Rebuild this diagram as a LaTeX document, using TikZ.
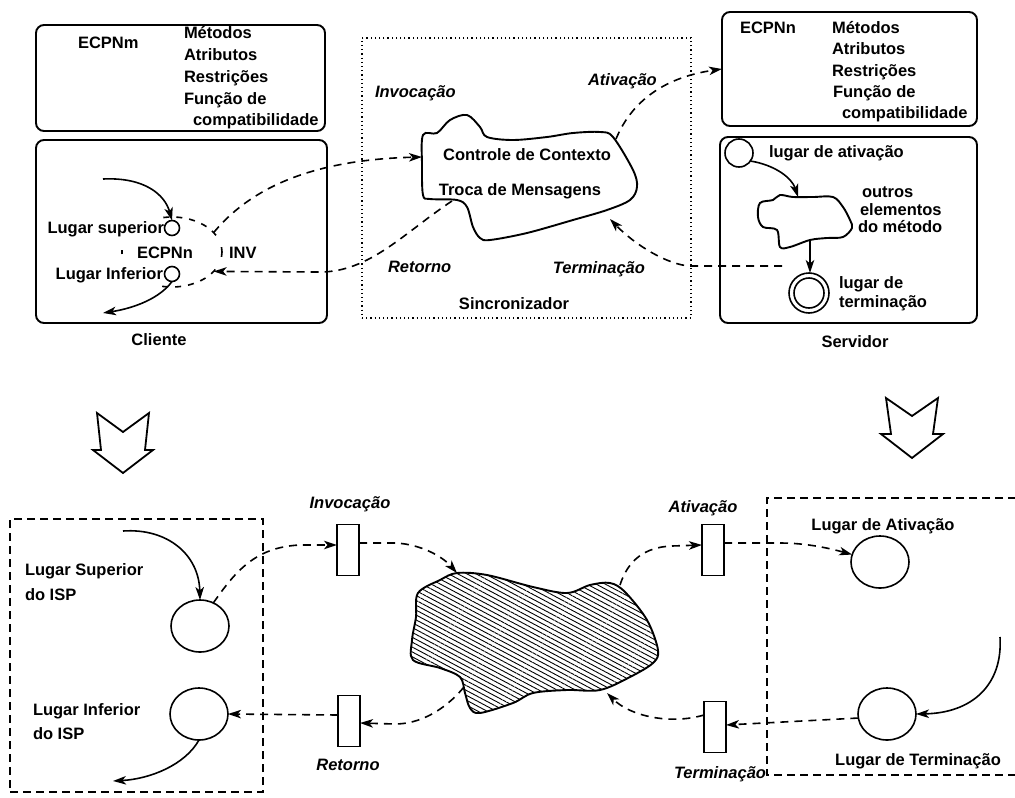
\documentclass[tikz,border=0pt]{standalone}
\usepackage{fontspec}
\setmainfont{Liberation Sans}
\usetikzlibrary{arrows.meta,shapes.geometric,patterns.meta,calc}

\begin{document}
\begin{tikzpicture}[x=1pt,y=-1pt,
  every node/.style={inner sep=0pt,outer sep=0pt},
  txt/.style={font=\fontsize{16.5}{18}\selectfont\bfseries,text height=11pt,text depth=0pt},
  itx/.style={font=\fontsize{16.5}{18}\selectfont\bfseries\itshape,text height=11pt,text depth=0pt},
  panel/.style={draw,line width=1.9pt,rounded corners=8pt},
  dotbox/.style={draw,line width=1.6pt,dash pattern=on 1.2pt off 3pt},
  dbox/.style={draw,line width=1.8pt,dash pattern=on 8pt off 5pt},
  smallplace/.style={draw,circle,line width=1.6pt,fill=white},
  place/.style={draw,ellipse,line width=1.6pt,minimum width=58pt,minimum height=52pt},
  trans/.style={draw,line width=1.6pt,minimum width=22pt,minimum height=51pt},
  tip/.style={-{Stealth[length=13pt,width=8.5pt,inset=3.5pt]}},
  flow/.style={tip,line width=1.6pt},
  dflow/.style={flow,dash pattern=on 8pt off 6pt},
  blob/.style={line width=1.9pt},
  hollow/.style={line width=1.8pt,line join=miter}
]
\useasboundingbox (0,0) rectangle (1015,798);

% ---------------- upper half: client, synchronizer, server ----------------
% ECPNm class panel
\node[panel,minimum width=289pt,minimum height=106pt] (ecm) at (180.5,78) {};
\node[txt,anchor=west] (ecmname) at (78,43) {ECPNm};
\node[txt,anchor=west] (ecm1) at (184,33) {Métodos};
\node[txt,anchor=west] (ecm2) at (184,55) {Atributos};
\node[txt,anchor=west] (ecm3) at (184,77) {Restrições};
\node[txt,anchor=west] (ecm4) at (184,99) {Função de};
\node[txt,anchor=west] (ecm5) at (193,120) {compatibilidade};

% client panel
\node[panel,minimum width=291pt,minimum height=183pt] (cli) at (181.5,231.5) {};
\node[txt] (clilabel) at (159,340) {Cliente};
% ECPNn instance region, only partly outlined
\node[ellipse,minimum width=100pt,minimum height=70pt] (inv) at (172,252) {};
\begin{scope}[line width=1.6pt,dash pattern=on 6pt off 7pt]
  \draw ([shift={(-100:50 and 35)}]inv.center) arc[start angle=-100,end angle=-28,x radius=50,y radius=35];
  \draw ([shift={(30:50 and 35)}]inv.center) arc[start angle=30,end angle=105,x radius=50,y radius=35];
\end{scope}
\begin{scope}[line width=1.6pt]
  \draw ([shift={(-8:50 and 35)}]inv.center) arc[start angle=-8,end angle=8,x radius=50,y radius=35];
  \draw ([shift={(176:50 and 35)}]inv.center) arc[start angle=176,end angle=184,x radius=50,y radius=35];
\end{scope}
\node[txt,anchor=east] (supl) at (164,228) {Lugar superior};
\node[txt,anchor=east] (infl) at (163,274) {Lugar Inferior};
\node[txt] (ecpnc) at (165,253) {ECPNn};
\node[txt,anchor=west] (invl) at (229,253) {INV};
\node[smallplace,minimum size=15pt] (sup) at (172,228) {};
\node[smallplace,minimum size=15pt] (infp) at (172,274) {};
\coordinate (cin) at (103,179);
\coordinate (cout) at (103,313);
\draw[flow] (cin) .. controls (145,177) and (165,195) .. (sup.north);
\draw[flow] (infp.south) .. controls (160,298) and (135,308) .. (cout);

% synchronizer
\node[dotbox,minimum width=329pt,minimum height=280pt] (sync) at (526.5,178) {};
\draw[blob] plot[smooth cycle,tension=0.55] coordinates {
  (423,135) (437,133) (450,120) (467,115) (480,127) (487,137) (513,140)
  (547,137) (573,133) (600,132) (613,137) (633,170) (637,187) (630,200)
  (607,210) (573,220) (527,233) (490,240) (480,238) (473,227) (467,207)
  (457,200) (430,199) (423,195) (422,165)};
\coordinate (ccin) at (422,157);
\coordinate (ccret) at (452,201);
\coordinate (ccact) at (616,139);
\coordinate (ccterm) at (610,219);
\node[txt] (ctx) at (527,155) {Controle de Contexto};
\node[txt] (msg) at (520,190) {Troca de Mensagens};
\node[itx,anchor=west] (sinv) at (375,92) {Invocação};
\node[itx,anchor=west] (sact) at (588,80) {Ativação};
\node[itx,anchor=west] (sret) at (388,267) {Retorno};
\node[itx,anchor=east] (sterm) at (645,268) {Terminação};
\node[txt] (synclabel) at (514,304) {Sincronizador};

% ECPNn class panel
\node[panel,minimum width=255pt,minimum height=114pt] (ecn) at (849.5,69) {};
\node[txt,anchor=west] (ecnname) at (740,28) {ECPNn};
\node[txt,anchor=west] (ecn1) at (832,28) {Métodos};
\node[txt,anchor=west] (ecn2) at (832,49) {Atributos};
\node[txt,anchor=west] (ecn3) at (832,71) {Restrições};
\node[txt,anchor=west] (ecn4) at (833,92) {Função de};
\node[txt,anchor=west] (ecn5) at (842,113) {compatibilidade};

% server panel
\node[panel,minimum width=257pt,minimum height=186pt] (srv) at (848.5,230) {};
\node[txt] (srvlabel) at (855,342) {Servidor};
\node[draw,circle,line width=1.6pt,minimum size=28pt] (act) at (739,153) {};
\node[txt,anchor=west] (actl) at (769,152) {lugar de ativação};
\draw[blob] plot[smooth cycle,tension=0.55] coordinates {
  (760,203) (773,200) (780,195) (793,197) (813,197) (833,197) (843,207)
  (850,220) (852,228) (843,237) (827,238) (810,240) (790,247) (780,247)
  (777,230) (763,227) (758,217)};
\coordinate (mtop) at (798,197);
\coordinate (mbot) at (810,240);
\node[txt,anchor=west] (oth1) at (862,192) {outros};
\node[txt,anchor=west] (oth2) at (860,210) {elementos};
\node[txt,anchor=west] (oth3) at (858,227) {do método};
\node[draw,circle,line width=1.6pt,minimum size=40pt] (term) at (809,293) {};
\node[draw,circle,line width=1.6pt,minimum size=30pt] (termin) at (term) {};
\node[txt,anchor=west] (terml1) at (839,283) {lugar de};
\node[txt,anchor=west] (terml2) at (839,302) {terminação};
\draw[flow] (act.-35) .. controls (775,165) and (792,178) .. (mtop);
\draw[flow] (mbot) -- (term.north -| mbot);

% message flows between the three parts
\coordinate (tstart) at (782,266);
\draw[dflow] (inv.25) .. controls (245,195) and (300,160) .. (ccin);
\draw[dflow] (ccret) .. controls (405,232) and (370,272) .. (320,272) -- (inv.-25);
\draw[dflow] (ccact) .. controls (630,105) and (660,78) .. (ecn.west);
\draw[dflow] (tstart) -- (690,266) .. controls (668,265) and (635,245) .. (ccterm);

% ---------------- transformation arrows ----------------
\draw[hollow] (97,413) -- (123,432) -- (149,413) -- (145,450) -- (153,450)
  -- (123,473) -- (93,450) -- (101,450) -- cycle;
\draw[hollow] (886,398) -- (912,416) -- (938,398) -- (933,434) -- (943,434)
  -- (912,458) -- (881,434) -- (891,434) -- cycle;

% ---------------- lower half: resulting net ----------------
\node[dbox,minimum width=253pt,minimum height=273pt] (isp) at (136.5,655.5) {};
\draw[dbox] (1016,498) -- (767,498) -- (767,775) -- (1016,775);

% client side places
\node[place] (cS) at (200,626) {};
\node[place] (cI) at (199,714) {};
\node[txt,anchor=west] (cSl1) at (25,570) {Lugar Superior};
\node[txt,anchor=west] (cSl2) at (25,595) {do ISP};
\node[txt,anchor=west] (cIl1) at (33,710) {Lugar Inferior};
\node[txt,anchor=west] (cIl2) at (33,734) {do ISP};
\coordinate (lin) at (123,531);
\coordinate (lout) at (113,781);
\draw[flow] (lin) .. controls (168,528) and (199,555) .. (cS.north);
\draw[flow] (cI.south) .. controls (185,765) and (150,779) .. (lout);

% transitions
\node[trans] (tInv) at (348,550) {};
\node[trans] (tRet) at (349,721) {};
\node[trans] (tAct) at (713,550) {};
\node[trans] (tTerm) at (715,727) {};
\node[itx] (tInvl) at (350,503) {Invocação};
\node[itx] (tRetl) at (348,765) {Retorno};
\node[itx] (tActl) at (703,507) {Ativação};
\node[itx] (tTerml) at (720,773) {Terminação};

% server side places
\node[place] (sA) at (880,562) {};
\node[place] (sT) at (887,714) {};
\node[txt] (sAl) at (883,525) {Lugar de Ativação};
\node[txt] (sTl) at (918,760) {Lugar de Terminação};
\coordinate (rin) at (1000,637);
\draw[flow] (rin) .. controls (1003,685) and (972,713) .. (sT.east);

% hatched synchronizer net
\draw[blob,pattern={Lines[angle=-28,distance=4.3pt,line width=0.9pt]}]
  plot[smooth cycle,tension=0.55] coordinates {
  (418,593) (440,580) (457,573) (487,575) (533,587) (567,593) (590,585)
  (610,583) (625,592) (647,620) (658,650) (653,663) (630,677) (600,690)
  (567,690) (533,693) (513,703) (480,713) (470,708) (465,693) (460,677)
  (440,668) (413,660) (412,640) (416,617)};
\coordinate (hin) at (457,573);
\coordinate (hact) at (620,585);
\coordinate (hterm) at (607,693);
\coordinate (hret) at (464,687);

% dashed arcs of the net
\draw[dflow] (cS.60) .. controls (235,572) and (255,547) .. (300,545) -- ($(tInv.west)+(0,-5)$);
\draw[dflow] ($(tInv.east)+(0,-7)$) -- (395,543) .. controls (420,544) and (442,556) .. (hin);
\draw[dflow] (hact) .. controls (628,560) and (645,547) .. (672,546) -- ($(tAct.west)+(0,-5)$);
\draw[dflow] ($(tAct.east)+(0,-7)$) -- (780,543) .. controls (808,543) and (832,549) .. (sA.165);
\draw[dflow] (sT.188) -- ($(tTerm.east)+(0,-2)$);
\draw[dflow] ($(tTerm.west)+(0,-12)$) .. controls (670,725) and (630,716) .. (hterm);
\draw[dflow] (hret) .. controls (445,710) and (420,724) .. (395,724) -- ($(tRet.east)+(0,2)$);
\draw[dflow] ($(tRet.west)+(0,-6)$) -- (cI.east);

\end{tikzpicture}
\end{document}
